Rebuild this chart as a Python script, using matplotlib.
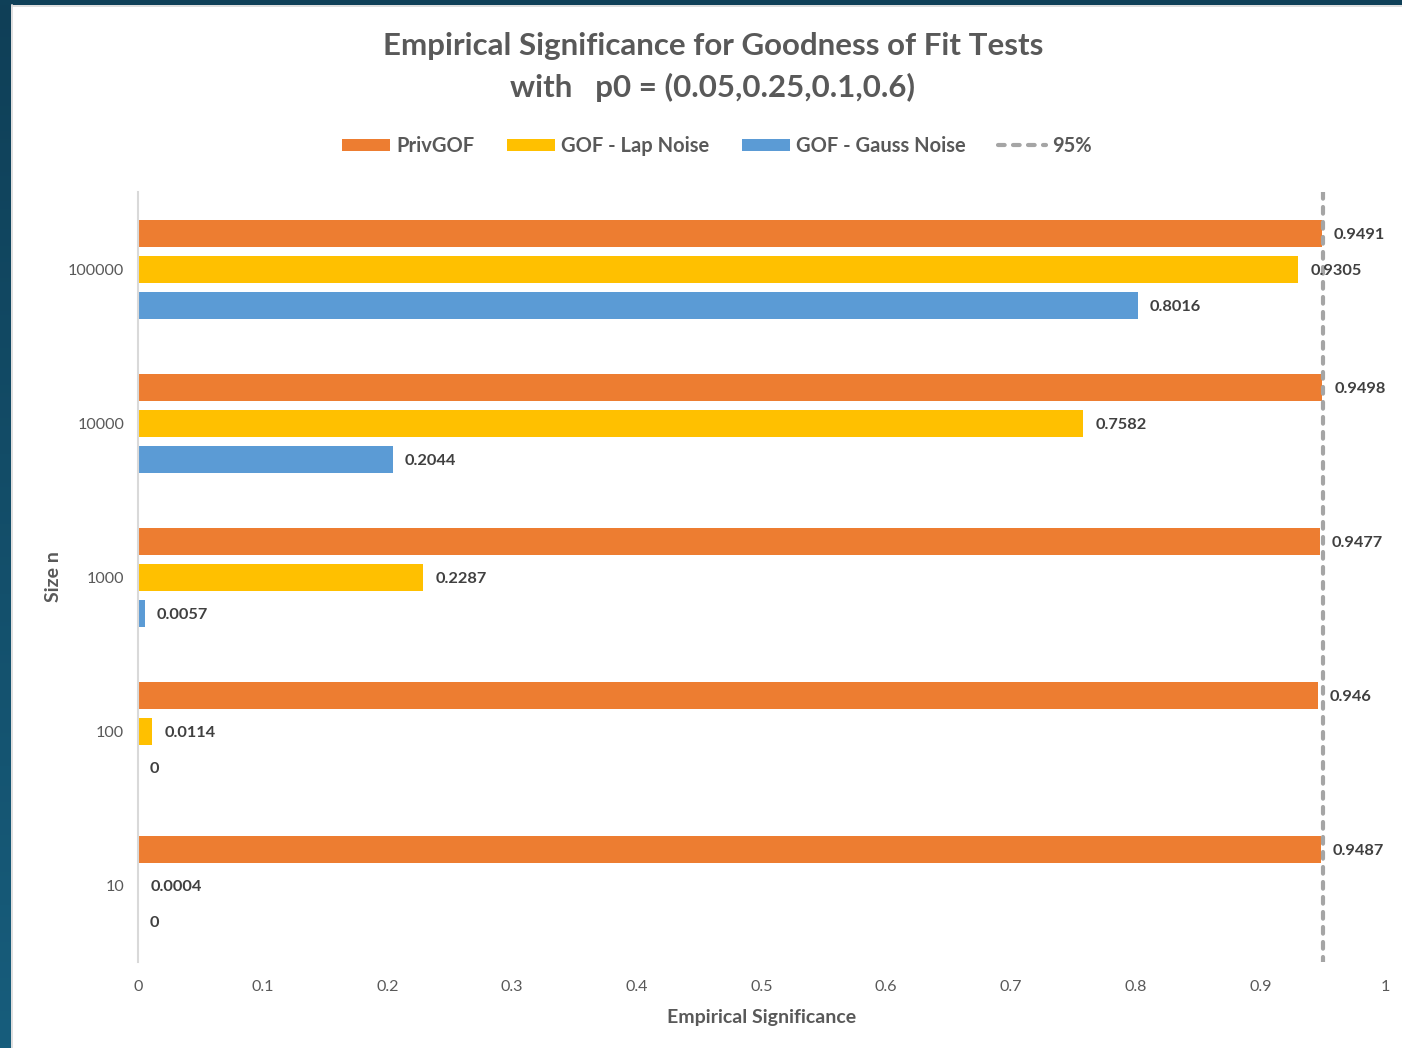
import numpy as np
import matplotlib
matplotlib.use("Agg")
import matplotlib.pyplot as plt
from matplotlib.patches import Patch, Rectangle
from matplotlib.lines import Line2D

plt.rcParams['font.family'] = ['Lato', 'DejaVu Sans']

sizes = ["100000", "10000", "1000", "100", "10"]
priv_gof = [0.9491, 0.9498, 0.9477, 0.946, 0.9487]
gof_lap = [0.9305, 0.7582, 0.2287, 0.0114, 0.0004]
gof_gauss = [0.8016, 0.2044, 0.0057, 0.0, 0.0]
threshold = 0.95
xticks = [0, 0.1, 0.2, 0.3, 0.4, 0.5, 0.6, 0.7, 0.8, 0.9, 1]

series = [
    ("PrivGOF", priv_gof, "#ED7D31"),
    ("GOF - Lap Noise", gof_lap, "#FFC000"),
    ("GOF - Gauss Noise", gof_gauss, "#5B9BD5"),
]

W, H = 1402, 1048
fig = plt.figure(figsize=(W / 100, H / 100), dpi=100)
fig.patch.set_facecolor("white")

# dark frame strips on the left and top
strip = fig.add_axes([0, 0, 11 / W, 1])
grad = np.linspace(0, 1, 256).reshape(-1, 1)
cmap = matplotlib.colors.LinearSegmentedColormap.from_list("frame", ["#0f3f57", "#175d7c"])
strip.imshow(grad, aspect="auto", cmap=cmap, extent=[0, 1, 0, 1], origin="upper")
strip.set_axis_off()
fig.add_artist(Rectangle((0, 1 - 5 / H), 1, 5 / H, transform=fig.transFigure,
                         facecolor="#0f4058", edgecolor="none", zorder=5))
fig.add_artist(Line2D([11.5 / W, 11.5 / W], [0, 1 - 5 / H], transform=fig.transFigure,
                      color="#d9d9d9", lw=1.2, zorder=5))
fig.add_artist(Line2D([11.5 / W, 1], [1 - 5.5 / H, 1 - 5.5 / H], transform=fig.transFigure,
                      color="#d9d9d9", lw=1.2, zorder=5))

ax = fig.add_axes([138 / W, 86 / H, (1385 - 138) / W, (962 - 192) / H])

n = len(sizes)
centers = np.arange(n)
offsets = [-36 / 154, 0, 36 / 154]
bar_h = 27 / 154
label_color = "#404040"
dash_pattern = (1.6, 2.0)

for (name, vals, color), off in zip(series, offsets):
    ys = centers + off
    ax.barh(ys, vals, height=bar_h, color=color, zorder=2)
    for y, v in zip(ys, vals):
        ax.annotate(f"{v:g}", (v, y), xytext=(12, -2), textcoords="offset pixels",
                    ha="left", va="center", fontsize=11.8, fontweight="bold",
                    color=label_color, zorder=4)

ax.plot([threshold, threshold], [-0.5, n - 0.5], color="#A5A5A5", lw=3,
        dashes=dash_pattern, dash_capstyle="round", zorder=3)

ax.set_xlim(0, 1)
ax.set_ylim(n - 0.5, -0.5)
ax.set_yticks(centers)
ax.set_yticklabels(sizes)
ax.set_xticks(xticks)
ax.set_xticklabels([f"{t:g}" for t in xticks])
ax.tick_params(axis="both", length=0, labelsize=11.6, labelcolor="#595959")
ax.tick_params(axis="x", pad=13)
ax.tick_params(axis="y", pad=10)
for s in ["top", "right", "bottom"]:
    ax.spines[s].set_visible(False)
ax.spines["left"].set_color("#d9d9d9")
ax.spines["left"].set_linewidth(1.5)

ax.set_xlabel("Empirical Significance", fontsize=14, fontweight="bold",
              color="#595959", labelpad=11)
ax.set_ylabel("Size n", fontsize=14, fontweight="bold", color="#595959")
ax.yaxis.set_label_coords(-(138 - 62) / (1385 - 138), 0.5)

fig.text(713 / W, 1 - 46 / H, "Empirical Significance for Goodness of Fit Tests",
         ha="center", va="center", fontsize=22.5, fontweight="bold", color="#595959")
fig.text(712 / W, 1 - 87 / H, "with   p0 = (0.05,0.25,0.1,0.6)",
         ha="center", va="center", fontsize=22.5, fontweight="bold", color="#595959")

handles = [Patch(facecolor=c, edgecolor="none", label=nm) for nm, _, c in series]
handles.append(Line2D([0], [0], color="#A5A5A5", lw=3, dashes=dash_pattern,
                      dash_capstyle="round", label="95%"))
leg = fig.legend(handles=handles, loc="center", bbox_to_anchor=(717 / W, 1 - 146 / H),
                 ncol=4, frameon=False, fontsize=14.5, handlelength=2.4, handleheight=0.6,
                 handletextpad=0.3, columnspacing=1.6)
for t in leg.get_texts():
    t.set_color("#595959")
    t.set_fontweight("bold")

fig.savefig("out.png", dpi=100)
